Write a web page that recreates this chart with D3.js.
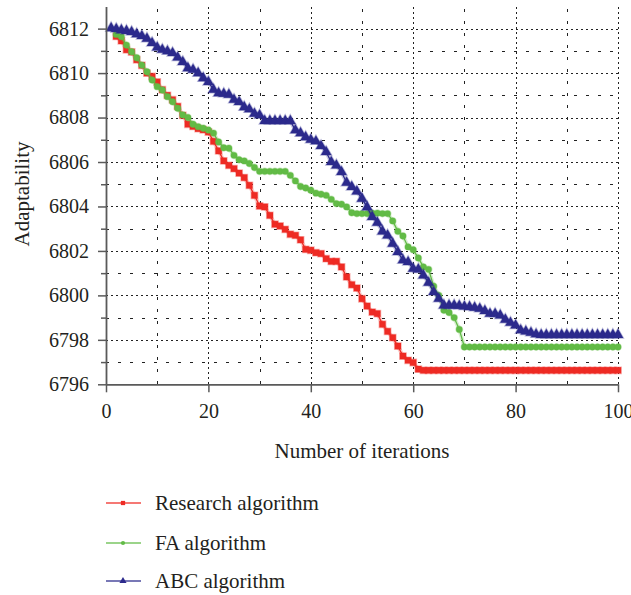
<!DOCTYPE html>
<html>
<head>
<meta charset="utf-8">
<script src="https://cdn.jsdelivr.net/npm/d3@7"></script>
<style>
  html, body { margin: 0; padding: 0; background: #fff; }
  svg { display: block; }
  text { font-family: "Liberation Serif", "DejaVu Serif", serif; fill: #231f20; }
</style>
</head>
<body>
<svg id="chart" width="631" height="595"></svg>
<script>
// ---------------- data ----------------
const seriesNames = ["Research algorithm", "FA algorithm", "ABC algorithm"];
const seriesColors = ["#ee2b24", "#62bb46", "#2c2a8c"];
const seriesStart = [2, 2, 1]; // iteration of first point

const researchValues = [
  6811.65, 6811.45, 6811.05, 6810.95, 6810.6, 6810.35, 6810.0, 6809.85, 6809.6,
  6809.25, 6809.0, 6808.8, 6808.5, 6808.1, 6807.7, 6807.6, 6807.5, 6807.45, 6807.35,
  6806.93, 6806.5, 6806.05, 6805.85, 6805.7, 6805.5, 6805.3, 6804.95, 6804.5, 6804.02,
  6803.98, 6803.6, 6803.2, 6803.12, 6802.97, 6802.75, 6802.7, 6802.5, 6802.07, 6802.03,
  6801.92, 6801.88, 6801.65, 6801.53, 6801.53, 6801.28, 6800.83, 6800.48, 6800.33, 6799.85,
  6799.52, 6799.25, 6799.18, 6798.7, 6798.38, 6798.1, 6797.72, 6797.27, 6797.08, 6796.98,
  6796.68, 6796.63, 6796.63, 6796.63, 6796.63, 6796.63, 6796.63, 6796.63, 6796.63, 6796.63,
  6796.63, 6796.63, 6796.63, 6796.63, 6796.63, 6796.63, 6796.63, 6796.63, 6796.63, 6796.63,
  6796.63, 6796.63, 6796.63, 6796.63, 6796.63, 6796.63, 6796.63, 6796.63, 6796.63, 6796.63,
  6796.63, 6796.63, 6796.63, 6796.63, 6796.63, 6796.63, 6796.63, 6796.63, 6796.63, 6796.63
];

const faValues = [
  6811.74, 6811.64, 6811.26, 6810.96, 6810.69, 6810.36, 6810.06, 6809.69, 6809.39,
  6809.24, 6808.94, 6808.71, 6808.42, 6808.12, 6808.0, 6807.7, 6807.59, 6807.52, 6807.44,
  6807.3, 6806.9, 6806.64, 6806.62, 6806.3, 6806.1, 6806.05, 6805.93, 6805.75, 6805.58,
  6805.58, 6805.58, 6805.58, 6805.58, 6805.58, 6805.4, 6805.15, 6804.9, 6804.83, 6804.73,
  6804.6, 6804.55, 6804.5, 6804.32, 6804.13, 6804.1, 6803.98, 6803.72, 6803.68, 6803.68,
  6803.68, 6803.7, 6803.7, 6803.68, 6803.68, 6803.35, 6802.88, 6802.67, 6802.18, 6802.05,
  6801.68, 6801.28, 6801.17, 6800.41, 6800.0, 6799.33, 6799.23, 6799.0, 6798.47, 6797.68,
  6797.68, 6797.68, 6797.68, 6797.68, 6797.68, 6797.68, 6797.68, 6797.68, 6797.68, 6797.68,
  6797.68, 6797.68, 6797.68, 6797.68, 6797.68, 6797.68, 6797.68, 6797.68, 6797.68, 6797.68,
  6797.68, 6797.68, 6797.68, 6797.68, 6797.68, 6797.68, 6797.68, 6797.68, 6797.68, 6797.68
];

const abcValues = [
  6812.02, 6811.98, 6811.93, 6811.9, 6811.85, 6811.75, 6811.67, 6811.55, 6811.35, 6811.15,
  6811.05, 6810.98, 6810.9, 6810.7, 6810.5, 6810.22, 6810.15, 6810.0, 6809.77, 6809.6,
  6809.25, 6809.1, 6809.07, 6809.03, 6808.8, 6808.7, 6808.47, 6808.37, 6808.17, 6808.1,
  6807.85, 6807.85, 6807.85, 6807.85, 6807.85, 6807.85, 6807.43, 6807.3, 6807.12, 6807.0,
  6806.93, 6806.72, 6806.45, 6806.0, 6805.85, 6805.55, 6805.07, 6804.88, 6804.68, 6804.35,
  6803.97, 6803.53, 6803.27, 6802.88, 6802.7, 6802.33, 6801.95, 6801.58, 6801.5, 6801.2,
  6801.17, 6800.9, 6800.57, 6800.15, 6799.85, 6799.55, 6799.55, 6799.55, 6799.53, 6799.5,
  6799.48, 6799.45, 6799.4, 6799.3, 6799.17, 6799.17, 6799.1, 6798.91, 6798.77, 6798.65,
  6798.43, 6798.38, 6798.32, 6798.25, 6798.22, 6798.22, 6798.22, 6798.22, 6798.22, 6798.22,
  6798.22, 6798.22, 6798.22, 6798.22, 6798.22, 6798.22, 6798.22, 6798.22, 6798.22, 6798.22
];

const xTickValues = [0, 20, 40, 60, 80, 100];
const xGridValues = [10, 20, 30, 40, 50, 60, 70, 80, 90, 100];
const yTickValues = [6796, 6798, 6800, 6802, 6804, 6806, 6808, 6810, 6812];
const yMinorValues = [6797, 6799, 6801, 6803, 6805, 6807, 6809, 6811];
const xTitle = "Number of iterations";
const yTitle = "Adaptability";

// ---------------- drawing ----------------
const svg = d3.select("#chart");
const x = d3.scaleLinear().domain([0, 100]).range([106, 618]);
const y = d3.scaleLinear().domain([6796, 6813]).range([384.3, 6.4]);
const FS = 20;

// grid
const grid = svg.append("g").attr("shape-rendering", "crispEdges");
const yGridVals = yTickValues.slice(1).concat(yMinorValues);
grid.selectAll("line.hg").data(yGridVals).join("line")
  .attr("x1", x(0)).attr("x2", x(100))
  .attr("y1", d => Math.round(y(d)) + 0.5).attr("y2", d => Math.round(y(d)) + 0.5)
  .attr("stroke", "#222").attr("stroke-width", 1)
  .attr("stroke-dasharray", d => (d % 2 === 0 ? "2,3" : "3,9"));
grid.selectAll("line.vg").data(xGridValues).join("line")
  .attr("y1", y(6796)).attr("y2", y(6813))
  .attr("x1", d => Math.round(x(d)) + 0.5).attr("x2", d => Math.round(x(d)) + 0.5)
  .attr("stroke", "#222").attr("stroke-width", 1)
  .attr("stroke-dasharray", d => (d % 20 === 0 ? "2,3" : "3,9"));

// series
const symbols = [d3.symbolSquare, d3.symbolCircle, d3.symbolTriangle];
const symSizes = [40, 32, 48];
const allValues = [researchValues, faValues, abcValues];
const line = d3.line().x(d => x(d[0])).y(d => y(d[1]));

allValues.forEach((vals, s) => {
  const pts = vals.map((v, i) => [seriesStart[s] + i, v]);
  const g = svg.append("g");
  g.append("path").datum(pts).attr("d", line)
    .attr("fill", "none").attr("stroke", seriesColors[s])
    .attr("stroke-opacity", 0.25).attr("stroke-width", 4);
  g.append("path").datum(pts).attr("d", line)
    .attr("fill", "none").attr("stroke", seriesColors[s]).attr("stroke-width", 1.3);
  g.selectAll("path.m").data(pts).join("path")
    .attr("transform", d => `translate(${x(d[0])},${y(d[1])})`)
    .attr("d", d3.symbol().type(symbols[s]).size(symSizes[s]))
    .attr("fill", seriesColors[s])
    .attr("stroke", seriesColors[s]).attr("stroke-opacity", 0.35).attr("stroke-width", 1.5);
});

// axes
const yAxis = d3.axisLeft(y).tickValues(yTickValues).tickSize(8).tickSizeOuter(0)
  .tickPadding(9).tickFormat(d3.format("d"));
const yAxisG = svg.append("g").attr("transform", `translate(${x(0)},0)`).call(yAxis);
const yMinor = d3.axisLeft(y).tickValues(yMinorValues).tickSize(5).tickFormat("");
const yMinorG = svg.append("g").attr("transform", `translate(${x(0)},0)`).call(yMinor);
yMinorG.select(".domain").remove();

const xAxis = d3.axisBottom(x).tickValues(xTickValues).tickSize(8).tickSizeOuter(0)
  .tickPadding(12).tickFormat(d3.format("d"));
const xAxisG = svg.append("g").attr("transform", `translate(0,${y(6796)})`).call(xAxis);

[yAxisG, yMinorG, xAxisG].forEach(g => {
  g.selectAll(".domain").attr("stroke", "#5a5a5a").attr("stroke-width", 1.8);
  g.selectAll(".tick line").attr("stroke", "#5a5a5a").attr("stroke-width", 1.5);
  g.selectAll(".tick text").attr("font-size", FS)
    .attr("font-family", "Liberation Serif").attr("fill", "#231f20");
});

// titles
svg.append("text").attr("x", 362).attr("y", 458).attr("text-anchor", "middle")
  .attr("font-size", 21).text(xTitle);
svg.append("text").attr("transform", "translate(29,194) rotate(-90)")
  .attr("text-anchor", "middle").attr("font-size", 21).text(yTitle);

// legend
const legendY = [503, 543, 581];
const legSizes = [18, 14, 22];
seriesNames.forEach((name, s) => {
  const g = svg.append("g").attr("transform", `translate(0,${legendY[s]})`);
  g.append("line").attr("x1", 106).attr("x2", 141).attr("y1", 0).attr("y2", 0)
    .attr("stroke", seriesColors[s]).attr("stroke-width", 1.6).attr("stroke-opacity", 0.85);
  g.append("path").attr("transform", "translate(123,0)")
    .attr("d", d3.symbol().type(symbols[s]).size(legSizes[s]))
    .attr("fill", seriesColors[s]);
  g.append("text").attr("x", 155).attr("y", 7).attr("font-size", 21).text(name);
});
</script>
</body>
</html>
